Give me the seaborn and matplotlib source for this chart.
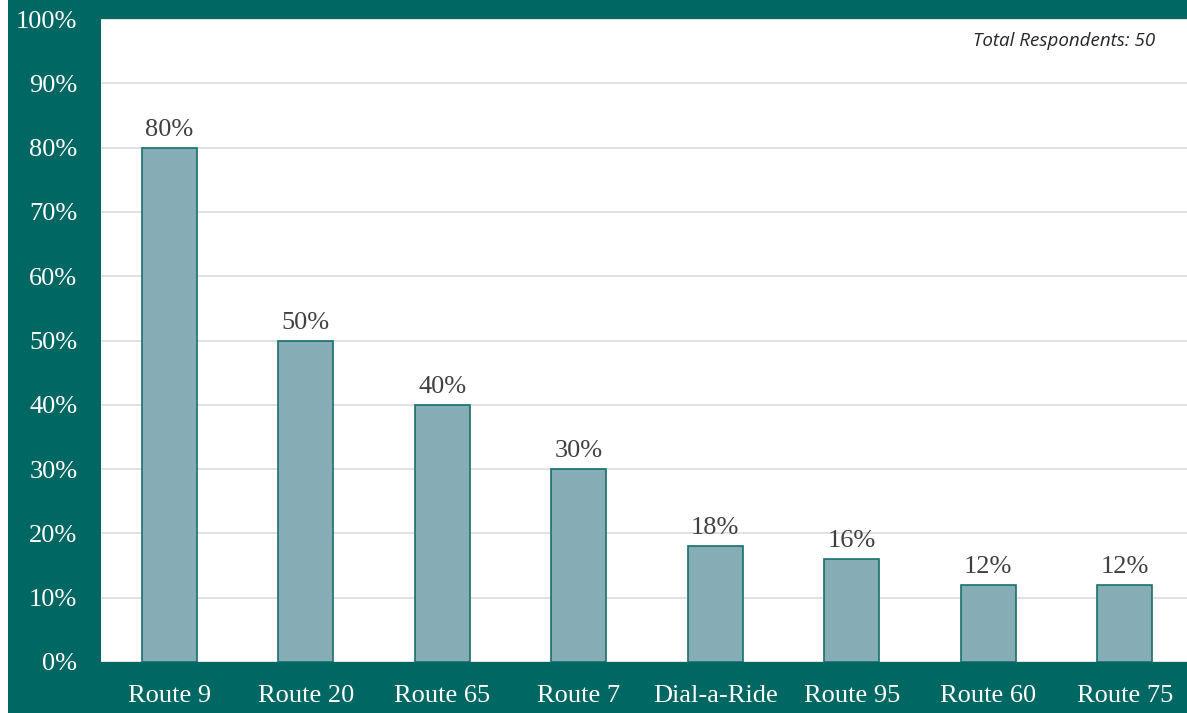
import matplotlib
matplotlib.use("Agg")
import matplotlib.pyplot as plt
import seaborn as sns
import pandas as pd

# chart values
routes = ["Route 9", "Route 20", "Route 65", "Route 7", "Dial-a-Ride",
          "Route 95", "Route 60", "Route 75"]
share = [80, 50, 40, 30, 18, 16, 12, 12]
y_ticks = [0, 10, 20, 30, 40, 50, 60, 70, 80, 90, 100]
note = "Total Respondents: 50"

teal = "#006763"
bar_fill = "#86ADB5"
bar_edge = "#17706C"

sns.set_style("white")
plt.rcParams["font.family"] = ["Liberation Serif", "DejaVu Serif"]

df = pd.DataFrame({"route": routes, "share": share})

fig = plt.figure(figsize=(11.87, 7.13), dpi=100)
# white strip on the left then teal frame
fig.patch.set_facecolor("white")
fig.add_artist(plt.Rectangle((8 / 1187, 0), 1, 1, transform=fig.transFigure,
                             facecolor=teal, edgecolor="none", zorder=0))

ax = fig.add_axes([101 / 1187, 51 / 713, 1092 / 1187, 643 / 713])
ax.set_facecolor("white")
sns.barplot(data=df, x="route", y="share", color=bar_fill, width=0.40,
            edgecolor=bar_edge, linewidth=1.2, saturation=1, ax=ax, zorder=3)

ax.set_ylim(0, 100)
ax.set_xlim(-0.5, len(routes) - 0.5)
ax.set_yticks(y_ticks)
ax.set_yticklabels([f"{t}%" for t in y_ticks])
ax.yaxis.grid(True, color="#D9D9D9", linewidth=1.1, zorder=0)
ax.set_axisbelow(True)
for s in ax.spines.values():
    s.set_visible(False)
ax.tick_params(axis="y", length=0, pad=17, labelsize=19, labelcolor="white")
ax.tick_params(axis="x", length=0, pad=16.5, labelsize=19, labelcolor="white")
ax.set_xlabel("")
ax.set_ylabel("")

# value labels above the bars
for i, v in enumerate(share):
    ax.annotate(f"{v}%", (i, v), xytext=(0, 5), textcoords="offset points",
                ha="center", va="bottom", fontsize=19, color="#404040")

fig.text(1155 / 1187, 1 - 41 / 713, note, ha="right", va="center",
         fontsize=13.5, style="italic", color="#262626",
         family=["Open Sans", "DejaVu Sans"])

fig.savefig("out.png", dpi=100, facecolor=fig.get_facecolor())
